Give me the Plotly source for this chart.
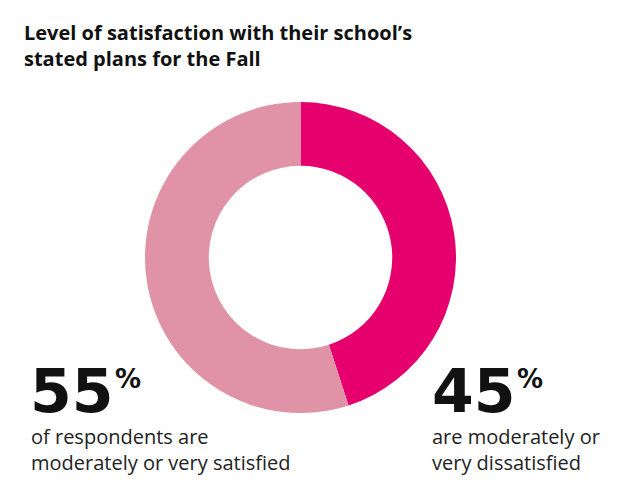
import plotly.graph_objects as go

W, H = 644, 500
OFF = 8  # page body margin of the browser

labels = ["Moderately or very dissatisfied", "Moderately or very satisfied"]
values = [45, 55]
colors = ["#E6006E", "#E092A6"]

title_lines = ["Level of satisfaction with their school\u2019s", "stated plans for the Fall"]
left_big = "55"
left_text = ["of respondents are", "moderately or very satisfied"]
right_big = "45"
right_text = ["are moderately or", "very dissatisfied"]

cx, cy, r = 300.5 - OFF, 257.5 - OFF, 155.5

fig = go.Figure(go.Pie(
    labels=labels, values=values, hole=0.59, sort=False,
    direction="clockwise", rotation=0,
    marker=dict(colors=colors, line=dict(width=0)),
    textinfo="none", hoverinfo="label+percent", showlegend=False,
    domain=dict(x=[(cx - r) / W, (cx + r) / W], y=[1 - (cy + r) / H, 1 - (cy - r) / H]),
))

def px(x):
    return (x - OFF) / W

def py(y):
    return 1 - (y - OFF) / H

BIG = dict(family="DejaVu Sans", size=60, color="#111111", weight="bold")
PCT = dict(family="DejaVu Sans", size=26, color="#111111", weight="bold")
BODY = dict(family="Open Sans", size=20, color="#222222")

ann = []
ann.append(dict(text="<br>".join(title_lines), x=px(22), y=py(17), xanchor="left", yanchor="top",
                align="left", showarrow=False,
                font=dict(family="Open Sans", size=20, color="#111111", weight="bold")))
ann.append(dict(text=left_big, x=px(28), y=py(354), xanchor="left", yanchor="top", showarrow=False, font=BIG))
ann.append(dict(text="%", x=px(113), y=py(362), xanchor="left", yanchor="top", showarrow=False, font=PCT))
ann.append(dict(text="<br>".join(left_text), x=px(29), y=py(421), xanchor="left", yanchor="top",
                align="left", showarrow=False, font=BODY))
ann.append(dict(text=right_big, x=px(430), y=py(354), xanchor="left", yanchor="top", showarrow=False, font=BIG))
ann.append(dict(text="%", x=px(515), y=py(362), xanchor="left", yanchor="top", showarrow=False, font=PCT))
ann.append(dict(text="<br>".join(right_text), x=px(430), y=py(421), xanchor="left", yanchor="top",
                align="left", showarrow=False, font=BODY))

fig.update_layout(width=W, height=H, margin=dict(l=0, r=0, t=0, b=0),
                  paper_bgcolor="white", plot_bgcolor="white", annotations=ann)
fig.write_html("out.html")
